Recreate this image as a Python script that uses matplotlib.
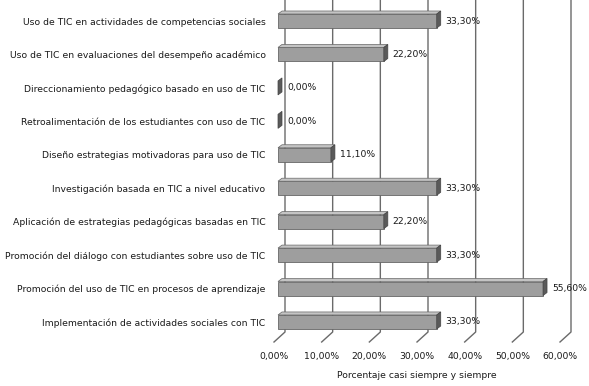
import matplotlib
matplotlib.use("Agg")
import matplotlib.pyplot as plt
from matplotlib.patches import Polygon
from matplotlib.lines import Line2D
from matplotlib.transforms import IdentityTransform

categories = [
    "Uso de TIC en actividades de competencias sociales",
    "Uso de TIC en evaluaciones del desempeño académico",
    "Direccionamiento pedagógico basado en uso de TIC",
    "Retroalimentación de los estudiantes con uso de TIC",
    "Diseño estrategias motivadoras para uso de TIC",
    "Investigación basada en TIC a nivel educativo",
    "Aplicación de estrategias pedagógicas basadas en TIC",
    "Promoción del diálogo con estudiantes sobre uso de TIC",
    "Promoción del uso de TIC en procesos de aprendizaje",
    "Implementación de actividades sociales con TIC",
]
values = [33.3, 22.2, 0.0, 0.0, 11.1, 33.3, 22.2, 33.3, 55.6, 33.3]
value_labels = ["33,30%", "22,20%", "0,00%", "0,00%", "11,10%",
                "33,30%", "22,20%", "33,30%", "55,60%", "33,30%"]
ticks = [0, 10, 20, 30, 40, 50, 60]
tick_labels = ["0,00%", "10,00%", "20,00%", "30,00%", "40,00%", "50,00%", "60,00%"]
xlabel = "Porcentaje casi siempre y siempre"

plt.rcParams['font.family'] = ['DejaVu Sans']
FS = 6.7
TXT = "#1a1a1a"

W, H = 589, 386
fig = plt.figure(figsize=(W / 100, H / 100), dpi=100)
ax = fig.add_axes([278 / W, 1 - 338.7 / H, 286 / W, 334.4 / H])
ax.set_xlim(0, 60)
ax.set_ylim(len(categories) - 0.5, -0.5)
for s in ax.spines.values():
    s.set_visible(False)
ax.set_xticks([])
ax.set_yticks(range(len(categories)))
ax.set_yticklabels(categories, fontsize=FS, color=TXT)
ax.tick_params(axis='y', length=0, pad=9)
ax.patch.set_visible(False)

fig.canvas.draw()
ident = IdentityTransform()
T = ax.transData

def px(x, y):
    return T.transform((x, y))

# 3D wall gridlines with slanted feet
back_dx = 7
top_y = H
grid_bottom = H - 332
foot_bottom = H - 342
for v, lab in zip(ticks, tick_labels):
    x0, _ = px(v, 0)
    xb = x0 + back_dx
    line = Line2D([xb, xb, xb - 11], [top_y, grid_bottom, foot_bottom],
                  transform=ident, color="#6a6a6a", lw=1.0, zorder=1)
    fig.add_artist(line)
    fig.text((x0 - 4) / W, (H - 357) / H, lab,
             ha="center", va="center", fontsize=FS, color=TXT)

fig.text(417 / W, (H - 376) / H, xlabel, ha="center", va="center",
         fontsize=FS, color=TXT)

# bars with 3D depth
bh = 0.42
ddx, ddy = 4, 3
front_c = "#9e9e9e"
top_c = "#c4c4c4"
side_c = "#5a5a5a"
edge_c = "#666666"
for i, v in enumerate(values):
    xl, yt = px(0, i - bh / 2)
    xr, yb = px(v, i + bh / 2)
    if v > 0:
        fig.add_artist(Polygon([(xl, yb), (xr, yb), (xr, yt), (xl, yt)], closed=True,
                               transform=ident, facecolor=front_c, edgecolor=edge_c,
                               lw=0.6, zorder=3))
        fig.add_artist(Polygon([(xl, yt), (xr, yt), (xr + ddx, yt + ddy), (xl + ddx, yt + ddy)],
                               closed=True, transform=ident, facecolor=top_c,
                               edgecolor=edge_c, lw=0.5, zorder=3))
    fig.add_artist(Polygon([(xr, yb), (xr + ddx, yb + ddy), (xr + ddx, yt + ddy), (xr, yt)],
                           closed=True, transform=ident, facecolor=side_c,
                           edgecolor="#444444", lw=0.5, zorder=4))
    yc = (yt + yb) / 2
    fig.text((xr + ddx + 5) / W, yc / H, value_labels[i], ha="left", va="center",
             fontsize=FS, color=TXT, zorder=5)

fig.savefig("out.png", dpi=100, facecolor="white")
